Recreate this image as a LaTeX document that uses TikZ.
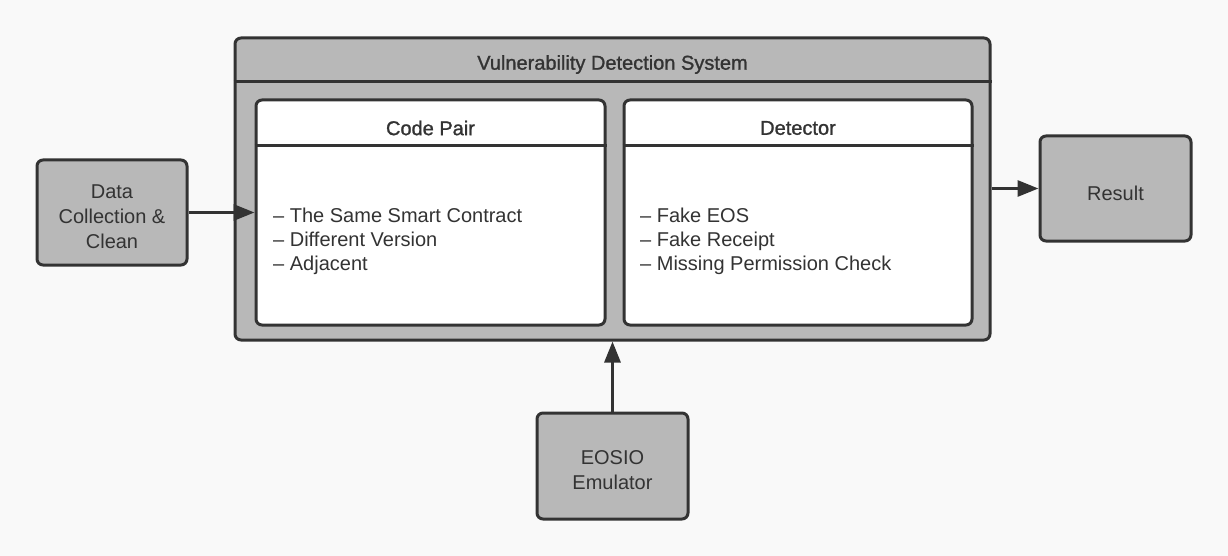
\documentclass[tikz,border=0pt]{standalone}
\usepackage{fontspec}
\setmainfont{Liberation Sans}
\newfontfamily\medfont[FakeBold=1.2]{Liberation Sans}
\usetikzlibrary{arrows.meta}
\definecolor{bgc}{HTML}{F9F9F9}
\definecolor{boxgray}{HTML}{B8B8B8}
\definecolor{edge}{HTML}{333333}
\definecolor{txt}{HTML}{333333}
\tikzset{
  gbox/.style={draw=edge, line width=3pt, fill=boxgray, rounded corners=6pt, inner sep=0pt},
  wbox/.style={draw=edge, line width=3pt, fill=white, rounded corners=6pt, inner sep=0pt},
  sep/.style={draw=edge, line width=3pt},
  ttl/.style={text=txt, font=\medfont\fontsize{20}{22}\selectfont, inner sep=0pt},
  lbl/.style={text=txt, font=\fontsize{20}{25}\selectfont, align=center, inner sep=0pt},
  items/.style={text=txt, font=\fontsize{20}{24}\selectfont, align=left, inner sep=0pt, anchor=west},
  arr/.style={draw=edge, line width=3pt, -{Triangle[length=21pt,width=16pt]}}
}
\begin{document}
\begin{tikzpicture}[x=1pt,y=-1pt]
\useasboundingbox[fill=bgc] (0,0) rectangle (1228,556);
% outer system
\node[gbox, minimum width=755pt, minimum height=302pt] (sys) at (612.5,189) {};
\draw[sep] (sys.west |- 0,82) -- (sys.east |- 0,82);
\node[ttl] (systitle) at (612.5,64.5) {Vulnerability Detection System};
% code pair
\node[wbox, minimum width=349pt, minimum height=225pt] (cp) at (430.5,212.5) {};
\draw[sep] (cp.west |- 0,146) -- (cp.east |- 0,146);
\node[ttl] (cptitle) at (430.5,128) {Code Pair};
\node[items] (cpitems) at (273,241) {– The Same Smart Contract\\– Different Version\\– Adjacent};
% detector
\node[wbox, minimum width=348pt, minimum height=225pt] (det) at (798,212.5) {};
\draw[sep] (det.west |- 0,146) -- (det.east |- 0,146);
\node[ttl] (dettitle) at (798,128) {Detector};
\node[items] (detitems) at (640,241) {– Fake EOS\\– Fake Receipt\\– Missing Permission Check};
% data
\node[gbox, minimum width=150pt, minimum height=105pt] (data) at (112,212.5) {};
\node[lbl] (datatext) at (112,217) {Data\\Collection \&\\Clean};
% result
\node[gbox, minimum width=151pt, minimum height=105pt] (result) at (1115.5,188.5) {};
\node[lbl] (resulttext) at (1115.5,193) {Result};
% emulator
\node[gbox, minimum width=151pt, minimum height=106pt] (emu) at (612.5,466) {};
\node[lbl] (emutext) at (612.5,470) {EOSIO\\Emulator};
% connectors
\draw[arr] (data.east) -- (cp.west);
\draw[arr] (sys.east |- result.west) -- (result.west);
\draw[arr] (emu.north) -- (sys.south);
\end{tikzpicture}
\end{document}
